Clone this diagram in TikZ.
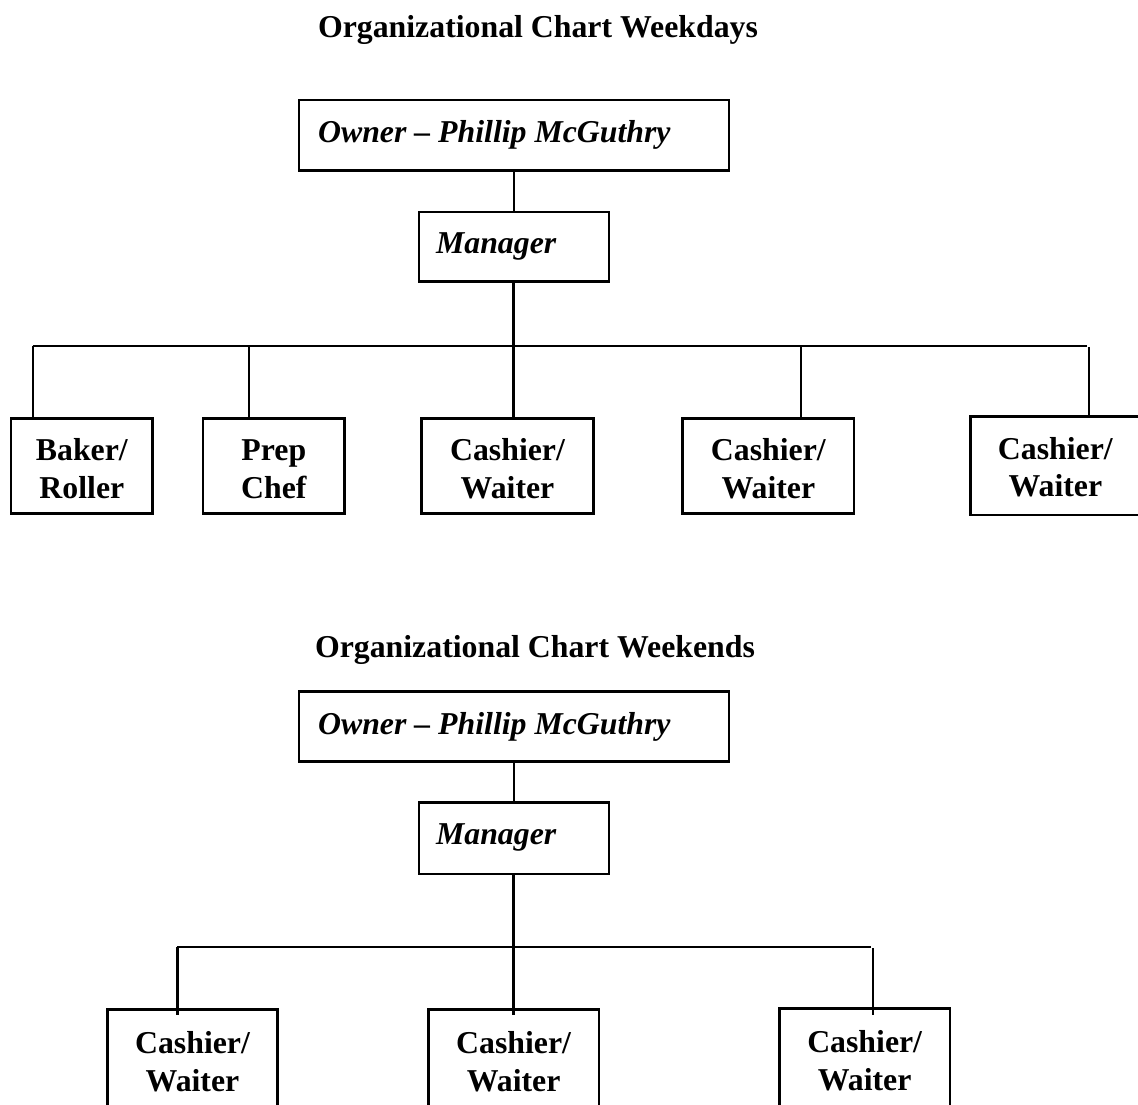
\documentclass[tikz,border=0pt]{standalone}
\usepackage{fontspec}
\setmainfont{Liberation Serif}
\usetikzlibrary{fit,calc}
\begin{document}
\begin{tikzpicture}[x=0.5pt,y=-0.5pt,
  box/.style={draw, line width=1.3pt, inner sep=0pt, rectangle},
  conn/.style={draw, line width=1.2pt},
  ttl/.style={font=\fontsize{15.9pt}{18.85pt}\selectfont\bfseries, anchor=base, inner sep=0pt},
  lbl/.style={font=\fontsize{15.9pt}{18.85pt}\selectfont\bfseries, align=center, anchor=base, inner sep=0pt},
  itl/.style={font=\fontsize{15.9pt}{18.85pt}\selectfont\bfseries\itshape, anchor=base west, inner sep=0pt}]
\useasboundingbox (0,0) rectangle (1138,1104);
\clip (0,0) rectangle (1138,1104);

% ---------- Weekdays ----------
\node[ttl] (t1) at (538,37) {Organizational Chart Weekdays};
\node[box, fit={(299,100) (729,170.7)}] (own1) {};
\node[box, fit={(419,212) (609,281.7)}] (mgr1) {};
\node[box, fit={(11,418.3) (152.7,513.3)}] (bak) {};
\node[box, fit={(203,418.3) (344.7,513.3)}] (prep) {};
\node[box, fit={(421.7,418.3) (593.3,513.5)}] (cwa) {};
\node[box, fit={(682.7,418.3) (854,513.5)}] (cwb) {};
\node[box, fit={(970.7,416.7) (1140,515)}] (cwc) {};

\node[itl] (own1t) at ($(own1.north west)+(20,44)$) {Owner – Phillip McGuthry};
\node[itl] (mgr1t) at ($(mgr1.north west)+(18,43)$) {Manager};
\node[lbl] (bakt) at ($(bak.north)+(0,81.5)$) {Baker/\\Roller};
\node[lbl] (prept) at ($(prep.north)+(0,81.5)$) {Prep\\Chef};
\node[lbl] (cwat) at ($(cwa.north)+(0,81.5)$) {Cashier/\\Waiter};
\node[lbl] (cwbt) at ($(cwb.north)+(0,81.5)$) {Cashier/\\Waiter};
\node[lbl] (cwct) at ($(cwc.north)+(0,81.5)$) {Cashier/\\Waiter};

\coordinate (b1l) at (32.7,345.7);
\coordinate (b1b) at (249,345.7);
\coordinate (b1c) at (513.3,345.7);
\coordinate (b1d) at (801,345.7);
\coordinate (b1r) at (1086.7,345.7);
\coordinate (b1e) at (1089,347.3);

\draw[conn] (own1.south) -- (mgr1.north);
\draw[conn] (mgr1.south -| b1c) -- (b1c);
\draw[conn] (b1l) -- (b1r);
\draw[conn] (b1l) -- (b1l |- bak.north);
\draw[conn] (b1b) -- (b1b |- prep.north);
\draw[conn] (b1c) -- (b1c |- cwa.north);
\draw[conn] (b1d) -- (b1d |- cwb.north);
\draw[conn] (b1e) -- (b1e |- cwc.north);

% ---------- Weekends ----------
\node[ttl] (t2) at (535,657) {Organizational Chart Weekends};
\node[box, fit={(299,691.7) (729,761.7)}] (own2) {};
\node[box, fit={(419,802.7) (609,874)}] (mgr2) {};
\node[box, fit={(107.3,1009.7) (277.7,1108)}] (cwd) {};
\node[box, fit={(428.3,1009.7) (599,1108)}] (cwe) {};
\node[box, fit={(779.3,1008.7) (950,1108)}] (cwf) {};

\node[itl] (own2t) at ($(own2.north west)+(20,44)$) {Owner – Phillip McGuthry};
\node[itl] (mgr2t) at ($(mgr2.north west)+(18,43)$) {Manager};
\node[lbl] (cwdt) at ($(cwd.north)+(0,83)$) {Cashier/\\Waiter};
\node[lbl] (cwet) at ($(cwe.north)+(0,83)$) {Cashier/\\Waiter};
\node[lbl] (cwft) at ($(cwf.north)+(0,83)$) {Cashier/\\Waiter};

\coordinate (b2l) at (177.3,947);
\coordinate (b2c) at (513.3,947);
\coordinate (b2r) at (870.7,947);
\coordinate (b2e) at (872.7,948);

\draw[conn] (own2.south) -- (mgr2.north);
\draw[conn] (mgr2.south -| b2c) -- (b2c);
\draw[conn] (b2l) -- (b2r);
\draw[conn] (b2l) -- ($(b2l |- cwd.north)+(0,7)$);
\draw[conn] (b2c) -- ($(b2c |- cwe.north)+(0,7)$);
\draw[conn] (b2e) -- ($(b2e |- cwf.north)+(0,8)$);
\end{tikzpicture}
\end{document}
